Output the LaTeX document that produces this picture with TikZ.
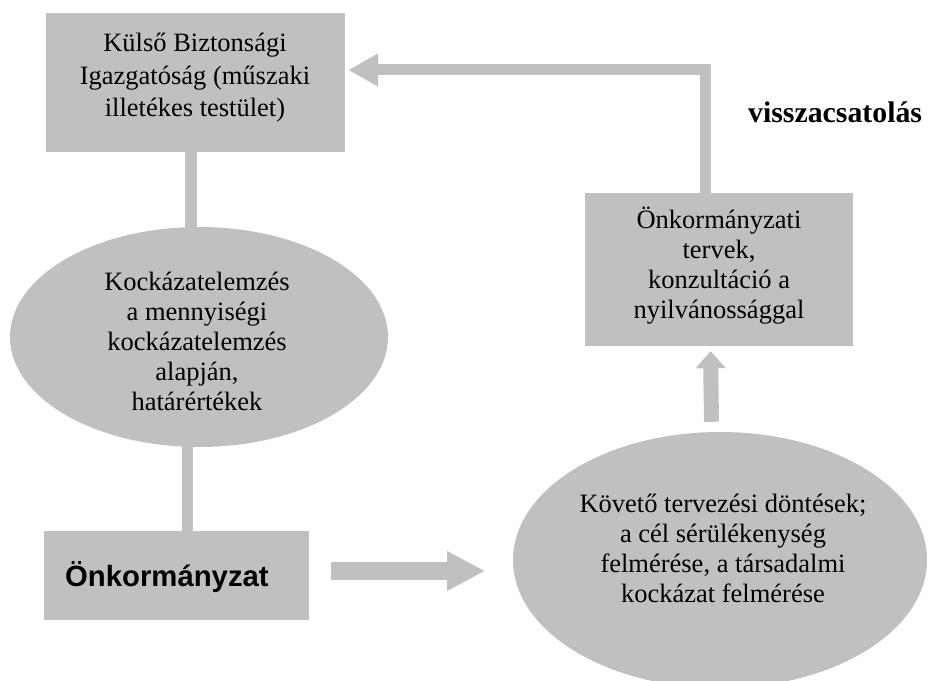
\documentclass[tikz,border=0pt]{standalone}
\usepackage{fontspec}
\setmainfont{Liberation Serif}
\newfontfamily\arialfont{Liberation Sans}
\usetikzlibrary{shapes.geometric,arrows.meta,calc}

\definecolor{boxgray}{RGB}{192,192,192}

\begin{document}
\begin{tikzpicture}[x=1bp,y=-1bp,
  panel/.style={rectangle,fill=boxgray,draw=none,inner sep=0},
  oval/.style={ellipse,fill=boxgray,draw=none,inner sep=0},
  txt/.style={align=center,inner sep=0,font=\fontsize{26.5bp}{30bp}\selectfont},
  bar/.style={draw=boxgray,line cap=butt},
  fatarrow/.style={draw=boxgray,line cap=butt,line join=miter}]

\clip (0,0) rectangle (936,681);

% boxes and ovals
\node[panel,minimum width=299bp,minimum height=139bp] (ktop) at (195.5,82.5) {};
\node[txt,font=\fontsize{26.5bp}{32.5bp}\selectfont] (ktoptxt) at (195,78)
  {Külső Biztonsági\\Igazgatóság (műszaki\\illetékes testület)};

\node[oval,minimum width=378bp,minimum height=220bp] (lell) at (199,337) {};
\node[txt] (lelltxt) at (197,341)
  {Kockázatelemzés\\a mennyiségi\\kockázatelemzés\\alapján,\\határértékek};

\node[panel,minimum width=265bp,minimum height=89bp] (onk) at (176.5,575.5) {};
\node[anchor=base west,inner sep=0,font=\arialfont\bfseries\fontsize{29.3bp}{32bp}\selectfont]
  (onktxt) at (65,586) {Önkormányzat};

\node[oval,minimum width=414bp,minimum height=256bp] (rell) at (720,560) {};
\node[txt] (relltxt) at (723,548)
  {Követő tervezési döntések;\\a cél sérülékenység\\felmérése, a társadalmi\\kockázat felmérése};

\node[panel,minimum width=268bp,minimum height=153bp] (rbox) at (719,269.5) {};
\node[txt] (rboxtxt) at (719,266)
  {Önkormányzati\\tervek,\\konzultáció a\\nyilvánossággal};

\node[anchor=base west,inner sep=0,font=\bfseries\fontsize{29.8bp}{32bp}\selectfont]
  (fbtxt) at (748,123) {visszacsatolás};

% plain links on the left
\draw[bar,line width=12bp] ([xshift=-4.5bp]ktop.south) -- ([xshift=-4.5bp,yshift=-3bp]ktop.south |- lell.north);
\draw[bar,line width=11bp] ([xshift=-11.5bp,yshift=3bp]lell.south) -- ([xshift=-11.5bp]lell.south |- onk.north);

% arrow to the follow-up decisions
\draw[fatarrow,line width=18bp,-{Triangle[length=38bp,width=37bp]}]
  ([xshift=22bp,yshift=4.5bp]onk.east) -- ++(154,0);

% arrow up to the plans
\draw[fatarrow,line width=15bp,-{Triangle[length=17bp,width=29bp]}]
  ([xshift=-8.5bp,yshift=10bp]rell.north) -- ([xshift=-8.5bp,yshift=-5bp]rbox.south);

% feedback loop back to the directorate
\draw[fatarrow,line width=11bp,-{Triangle[length=30bp,width=31bp]}]
  ([xshift=-14bp,yshift=-2bp]rbox.north) |- ([xshift=3bp,yshift=12.5bp]ktop.east);

\end{tikzpicture}
\end{document}
